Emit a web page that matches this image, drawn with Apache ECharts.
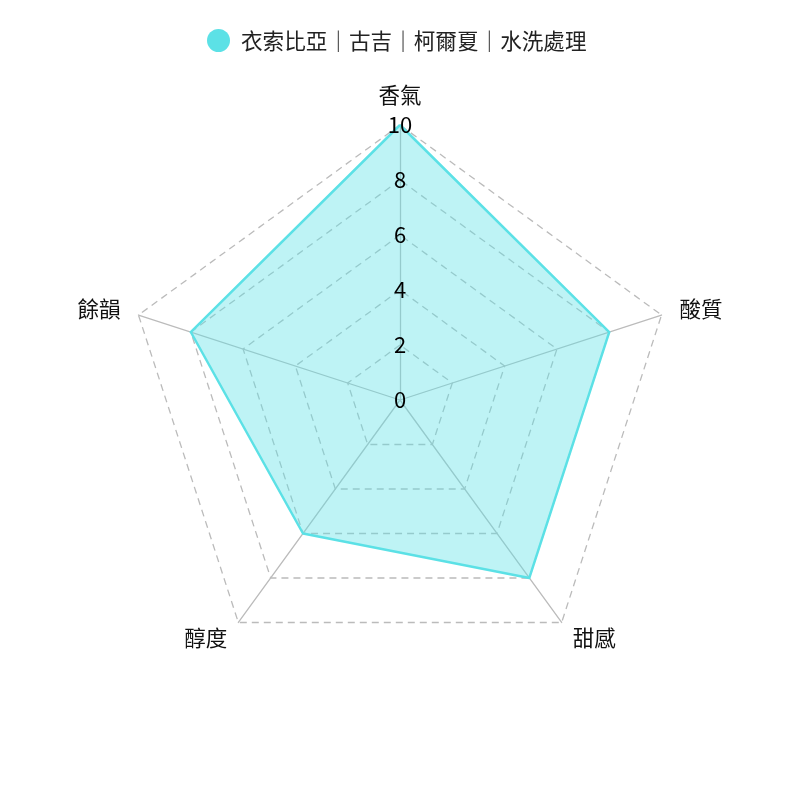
<!DOCTYPE html>
<html>
<head>
<meta charset="utf-8">
<script src="https://cdn.jsdelivr.net/npm/echarts@6/dist/echarts.min.js"></script>
<style>
  html, body { margin: 0; padding: 0; background: #fff; }
  #chart { width: 800px; height: 800px; }
</style>
</head>
<body>
<div id="chart"></div>
<script>
// 風味項目 (逆時針排列，讓酸質落在右側)
const indicators = ['香氣', '餘韻', '醇度', '甜感', '酸質'];
const maxScore = 10;
const seriesName = '衣索比亞｜古吉｜柯爾夏｜水洗處理';
const scores = [10, 8, 6, 8, 8];

const font = '"Noto Sans CJK TC", "Noto Sans", sans-serif';
const mainColor = '#5ce1e6';

const baseRadar = {
    center: ['50%', '50%'],
    radius: 275,
    startAngle: 90,
    splitNumber: 5,
    shape: 'polygon',
    nameGap: 19,
    splitArea: { show: false }
};

let myChart = echarts.init(document.getElementById('chart'));
myChart.setOption({
    animation: false,
    textStyle: { fontFamily: font },
    legend: {
        top: 24,
        left: 202,
        icon: 'circle',
        itemWidth: 23,
        itemHeight: 23,
        itemGap: 10,
        textStyle: { fontSize: 21.6, color: '#222', fontFamily: font, padding: [0, 0, 0, 6] },
        data: [seriesName]
    },
    radar: [
        Object.assign({}, baseRadar, {
            axisName: { color: '#111', fontSize: 21.5, fontFamily: font },
            indicator: indicators.map(n => ({ name: n, max: maxScore, min: 0 })),
            axisLabel: { show: false },
            axisLine: { lineStyle: { color: '#bbb', width: 1.3 } },
            splitLine: { lineStyle: { color: '#bbb', type: [7, 5], width: 1.3 } }
        }),
        // 只畫刻度數字，疊在面積上面
        Object.assign({}, baseRadar, {
            z: 5,
            axisName: { show: false },
            indicator: indicators.map((n, i) => ({
                name: n,
                max: maxScore,
                min: 0,
                axisLabel: i === 0 ? { show: true } : undefined
            })),
            axisLabel: {
                show: false,
                color: '#000',
                fontSize: 22,
                fontFamily: font,
                align: 'center',
                margin: 0
            },
            axisLine: { show: false },
            splitLine: { show: false }
        })
    ],
    series: [{
        name: seriesName,
        type: 'radar',
        radarIndex: 0,
        symbol: 'none',
        itemStyle: { color: mainColor },
        lineStyle: { color: mainColor, width: 2.5 },
        areaStyle: { color: mainColor, opacity: 0.4 },
        data: [{ name: seriesName, value: scores }]
    }]
});
</script>
</body>
</html>
